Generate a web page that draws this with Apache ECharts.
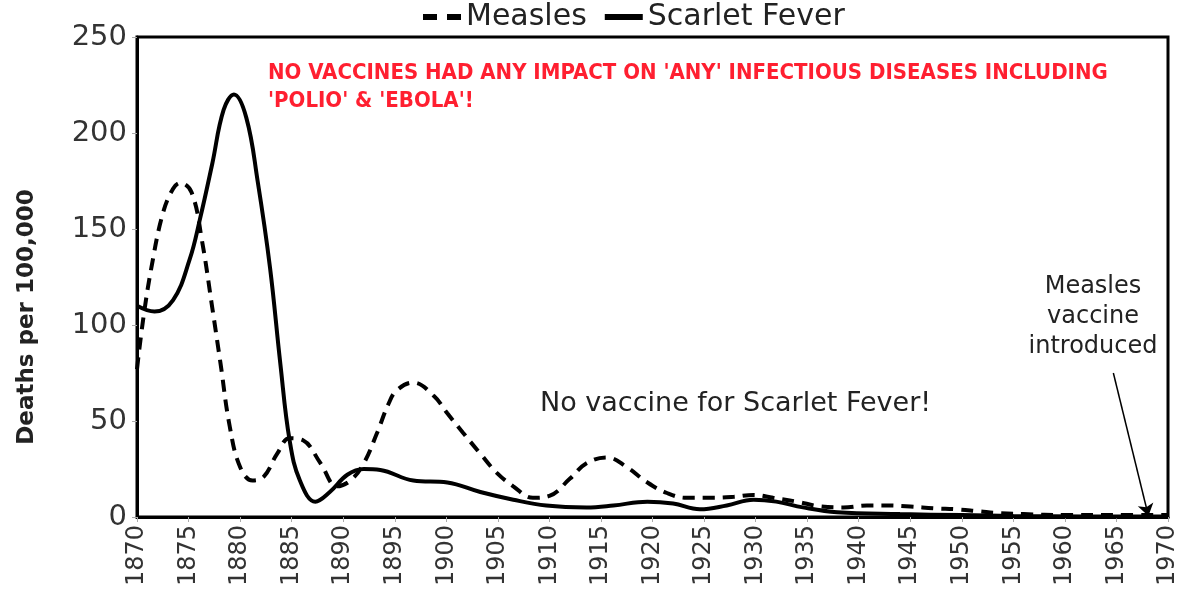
<!DOCTYPE html>
<html><head><meta charset="utf-8">
<script src="https://cdn.jsdelivr.net/npm/echarts@6/dist/echarts.min.js"></script>
<style>html,body{margin:0;padding:0;background:#fff}#c{width:1182px;height:592px}</style>
</head><body><div id="c"></div>
<script>
const measlesYears = [1870,1870.6,1871.4,1872.5,1873.5,1874.2,1875.3,1876.3,1877.3,1878.1,1879,1880,1881.2,1882.3,1883.6,1884.8,1886.1,1887.8,1889.4,1890.7,1892,1893.3,1894.4,1895.2,1896.8,1898.8,1900.1,1901.6,1903.3,1904.9,1906.5,1908.4,1910,1912,1913.6,1915.6,1917.5,1919.5,1921.4,1923.3,1925.9,1927.9,1929.8,1931.7,1934,1936.3,1938.5,1940.8,1942.7,1945,1947.3,1949.5,1951.6,1953.7,1956,1960,1965,1970];
const measlesValues = [77,103,130,158,171,174,169,144,109,80,47,26,19,21,33,41,40,28,16,19,28,44,59,66,70,63,54,44,33,23,16,10,11,20,28,31,26,18,12.5,10,10,10.5,11.5,10,8,5.5,5,6,6,5.5,4.5,4,3,2,1.5,1,1,1];
const scarletYears = [1870,1871.7,1873.5,1875.1,1876.1,1877.3,1878.4,1879.4,1880.6,1881.7,1882.9,1883.9,1884.8,1885.8,1887.3,1888.7,1890.4,1892,1893.6,1896.8,1900.1,1903.3,1906.5,1909.7,1913.6,1916.2,1919.5,1922,1924.6,1927.2,1929.8,1932,1934.6,1937.9,1944,1950,1955,1962,1970];
const scarletValues = [110,107,113,134,155,184,212,220,208,175,130,80,40,19,8,13,22,25,24.5,19,18,13,9,6,5,6,8,7,4,6,9,8,5,2.5,1.5,1,0.5,0.3,0.2];
const yTicks = [0,50,100,150,200,250];
const yAxisTitle = 'Deaths per 100,000';
const title1 = "NO VACCINES HAD ANY IMPACT ON 'ANY' INFECTIOUS DISEASES INCLUDING";
const title2 = "'POLIO' & 'EBOLA'!";
const noteScarlet = "No vaccine for Scarlet Fever!";
const noteMeasles = "Measles\nvaccine\nintroduced";
const arrowFrom = [1964.7, 75];
const arrowTo = [1968.1, 0.5];

const chart = echarts.init(document.getElementById('c'));
const zip = (xs, ys) => xs.map((x, i) => [x, ys[i]]);
chart.setOption({
  animation: false,
  textStyle: {fontFamily: 'DejaVu Sans'},
  legend: {
    top: -3, left: 418,
    itemWidth: 38, itemHeight: 14, itemGap: 18,
    textStyle: {fontSize: 30, color: '#222', fontFamily: 'DejaVu Sans'},
    data: [
      {name: 'Measles', icon: 'path://M0,0 L14,0 L14,6 L0,6 Z M24,0 L38,0 L38,6 L24,6 Z'},
      {name: 'Scarlet Fever', icon: 'path://M0,0 L38,0 L38,6 L0,6 Z'}
    ]
  },
  grid: {left: 137, right: 14, top: 37, bottom: 75, show: true, borderColor: '#000', borderWidth: 3, backgroundColor: 'transparent'},
  xAxis: {
    type: 'value', min: 1870, max: 1970, interval: 5,
    axisLine: {lineStyle: {color: '#000', width: 3}},
    axisTick: {show: true, length: 5, lineStyle: {color: '#aaa'}},
    axisLabel: {rotate: 90, fontSize: 24, color: '#333', margin: 8, formatter: v => String(v)},
    splitLine: {show: false}
  },
  yAxis: {
    type: 'value', min: 0, max: 250, interval: 50,
    axisLine: {show: true, lineStyle: {color: '#000', width: 3}},
    axisTick: {show: true, length: 5, lineStyle: {color: '#aaa'}},
    axisLabel: {fontSize: 29, color: '#333', margin: 10, formatter: v => yTicks.includes(v) ? String(v) : ''},
    splitLine: {show: false}
  },
  series: [
    {
      name: 'Measles', type: 'line', smooth: 0.4, symbol: 'none',
      data: zip(measlesYears, measlesValues),
      lineStyle: {color: '#000', width: 4, type: [12, 8]},
      itemStyle: {color: '#000'},
      markLine: {
        silent: true, symbol: ['none', 'arrow'], symbolSize: 12,
        label: {show: false},
        lineStyle: {color: '#000', width: 1.5, type: 'solid'},
        data: [[{coord: arrowFrom}, {coord: arrowTo}]]
      }
    },
    {
      name: 'Scarlet Fever', type: 'line', smooth: 0.4, symbol: 'none',
      data: zip(scarletYears, scarletValues),
      lineStyle: {color: '#000', width: 4},
      itemStyle: {color: '#000'}
    }
  ],
  graphic: [
    {type: 'text', x: 27, y: 317, rotation: Math.PI / 2, style: {text: yAxisTitle, fill: '#222', align: 'center', verticalAlign: 'middle', font: 'bold 23px "DejaVu Sans"'}},
    {type: 'text', x: 268, y: 62, style: {text: title1, fill: '#ff1f30', font: 'bold 22px "Liberation Sans Narrow", "DejaVu Sans Condensed", sans-serif'}},
    {type: 'text', x: 268, y: 90, style: {text: title2, fill: '#ff1f30', font: 'bold 22px "Liberation Sans Narrow", "DejaVu Sans Condensed", sans-serif'}},
    {type: 'text', x: 540, y: 390, style: {text: noteScarlet, fill: '#222', font: '27px "DejaVu Sans"'}},
    {type: 'text', x: 1093, y: 272, style: {text: noteMeasles, fill: '#222', font: '24px "DejaVu Sans"', align: 'center', verticalAlign: 'top', lineHeight: 30}}
  ]
});
</script></body></html>
